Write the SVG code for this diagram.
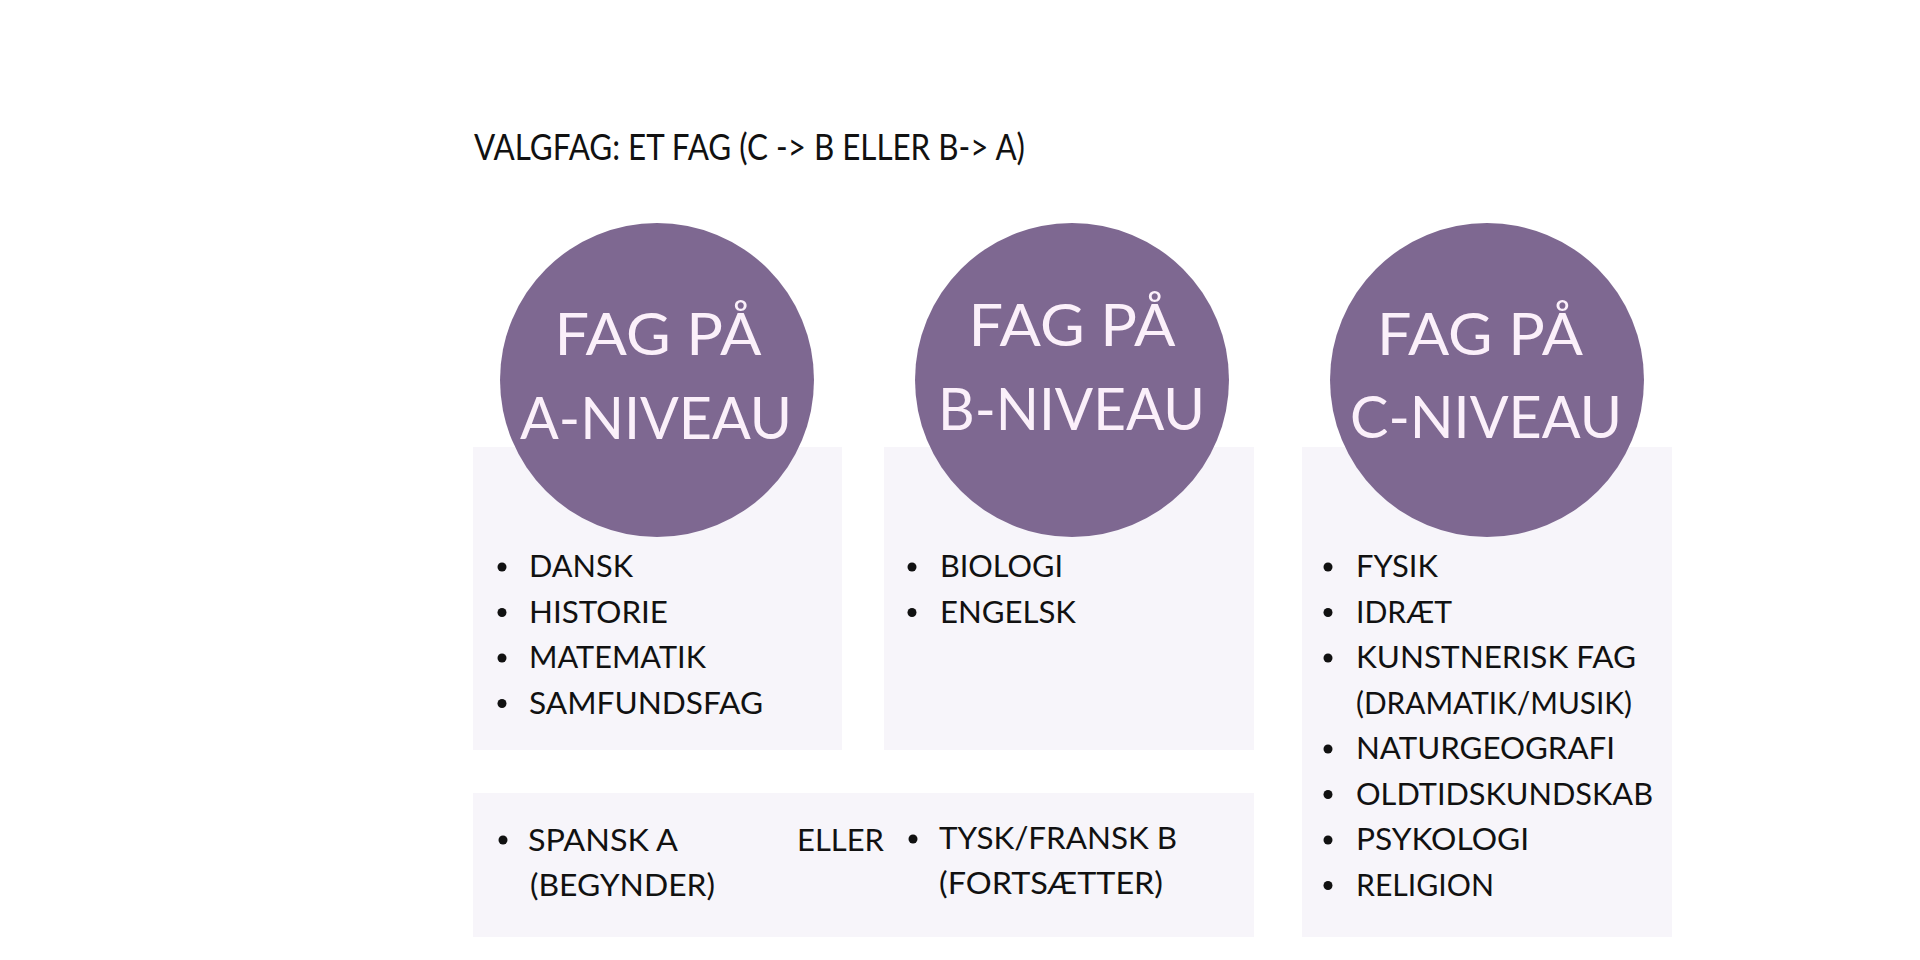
<svg xmlns="http://www.w3.org/2000/svg" width="1920" height="960" viewBox="0 0 1920 960">
<style>
.bg{fill:#ffffff}
.box{fill:#f7f5fa}
.circ{fill:#7e6891}
.ct{font-family:Lato,"Liberation Sans",sans-serif;font-size:58px;fill:#fbf0fa;text-anchor:middle}
.t{font-family:Lato,"Liberation Sans",sans-serif;font-size:30px;fill:#111111}
.title{font-family:Lato,"Liberation Sans",sans-serif;font-size:36px;fill:#111111}
.bul{fill:#111111}
</style>
<rect class="bg" x="0" y="0" width="1920" height="960"/>
<text class="title" x="474" y="160" textLength="551" lengthAdjust="spacingAndGlyphs">VALGFAG: ET FAG (C -&gt; B ELLER B-&gt; A)</text>

<g id="boxA">
<rect class="box" x="473" y="447" width="369" height="303"/>
<circle class="circ" cx="657" cy="380" r="157"/>
<text class="ct" x="658" y="355" textLength="207" lengthAdjust="spacingAndGlyphs">FAG PÅ</text>
<text class="ct" x="656" y="439" textLength="272" lengthAdjust="spacingAndGlyphs">A-NIVEAU</text>
<circle class="bul" cx="502" cy="567" r="4.5"/>
<text class="t" x="529" y="577" textLength="104" lengthAdjust="spacingAndGlyphs">DANSK</text>
<circle class="bul" cx="502" cy="612.5" r="4.5"/>
<text class="t" x="529" y="623" textLength="139" lengthAdjust="spacingAndGlyphs">HISTORIE</text>
<circle class="bul" cx="502" cy="658" r="4.5"/>
<text class="t" x="529" y="668" textLength="177" lengthAdjust="spacingAndGlyphs">MATEMATIK</text>
<circle class="bul" cx="502" cy="703.5" r="4.5"/>
<text class="t" x="529" y="714" textLength="234" lengthAdjust="spacingAndGlyphs">SAMFUNDSFAG</text>
</g>

<g id="boxB">
<rect class="box" x="884" y="447" width="370" height="303"/>
<circle class="circ" cx="1072" cy="380" r="157"/>
<text class="ct" x="1072" y="346" textLength="207" lengthAdjust="spacingAndGlyphs">FAG PÅ</text>
<text class="ct" x="1071.5" y="430" textLength="267" lengthAdjust="spacingAndGlyphs">B-NIVEAU</text>
<circle class="bul" cx="912" cy="567" r="4.5"/>
<text class="t" x="940" y="577" textLength="123" lengthAdjust="spacingAndGlyphs">BIOLOGI</text>
<circle class="bul" cx="912" cy="612.5" r="4.5"/>
<text class="t" x="940" y="623" textLength="136" lengthAdjust="spacingAndGlyphs">ENGELSK</text>
</g>

<g id="boxC">
<rect class="box" x="1302" y="447" width="370" height="490"/>
<circle class="circ" cx="1487" cy="380" r="157"/>
<text class="ct" x="1480" y="355" textLength="206" lengthAdjust="spacingAndGlyphs">FAG PÅ</text>
<text class="ct" x="1486" y="438" textLength="272" lengthAdjust="spacingAndGlyphs">C-NIVEAU</text>
<circle class="bul" cx="1328" cy="567" r="4.5"/>
<text class="t" x="1356" y="577" textLength="82" lengthAdjust="spacingAndGlyphs">FYSIK</text>
<circle class="bul" cx="1328" cy="612.5" r="4.5"/>
<text class="t" x="1356" y="623" textLength="96" lengthAdjust="spacingAndGlyphs">IDRÆT</text>
<circle class="bul" cx="1328" cy="658" r="4.5"/>
<text class="t" x="1356" y="668" textLength="280" lengthAdjust="spacingAndGlyphs">KUNSTNERISK FAG</text>
<text class="t" x="1356" y="714" textLength="276" lengthAdjust="spacingAndGlyphs">(DRAMATIK/MUSIK)</text>
<circle class="bul" cx="1328" cy="749" r="4.5"/>
<text class="t" x="1356" y="759" textLength="259" lengthAdjust="spacingAndGlyphs">NATURGEOGRAFI</text>
<circle class="bul" cx="1328" cy="794.5" r="4.5"/>
<text class="t" x="1356" y="805" textLength="297" lengthAdjust="spacingAndGlyphs">OLDTIDSKUNDSKAB</text>
<circle class="bul" cx="1328" cy="840" r="4.5"/>
<text class="t" x="1356" y="850" textLength="173" lengthAdjust="spacingAndGlyphs">PSYKOLOGI</text>
<circle class="bul" cx="1328" cy="885.5" r="4.5"/>
<text class="t" x="1356" y="896" textLength="138" lengthAdjust="spacingAndGlyphs">RELIGION</text>
</g>

<g id="boxSprog">
<rect class="box" x="473" y="793" width="781" height="144"/>
<circle class="bul" cx="503" cy="840" r="4.5"/>
<text class="t" x="528" y="851" textLength="150" lengthAdjust="spacingAndGlyphs">SPANSK A</text>
<text class="t" x="530" y="896" textLength="185" lengthAdjust="spacingAndGlyphs">(BEGYNDER)</text>
<text class="t" x="797" y="851" textLength="87" lengthAdjust="spacingAndGlyphs">ELLER</text>
<circle class="bul" cx="913" cy="839" r="4.5"/>
<text class="t" x="939" y="849" textLength="238" lengthAdjust="spacingAndGlyphs">TYSK/FRANSK B</text>
<text class="t" x="939" y="894" textLength="224" lengthAdjust="spacingAndGlyphs">(FORTSÆTTER)</text>
</g>

<g id="connectors"/>
</svg>
